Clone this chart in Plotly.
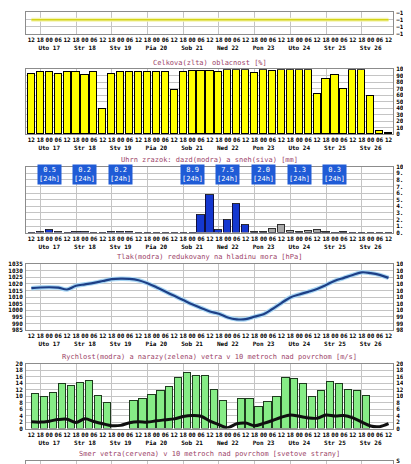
import plotly.graph_objects as go

# time axis: 6-hourly steps from Mon 16 12:00 to Thu 26 12:00
steps = list(range(41))
hour_cycle = ["12", "18", "00", "06"]
day_names = ["Uto 17", "Str 18", "Stv 19", "Pia 20", "Sob 21",
             "Ned 22", "Pon 23", "Uto 24", "Str 25", "Stv 26"]

cloud = [92, 96, 95, 93, 95, 96, 91, 96, 38, 92, 96, 95, 95, 95, 96, 95, 67,
         95, 97, 97, 97, 96, 98, 98, 98, 94, 98, 97, 98, 98, 98, 99, 62, 85,
         91, 69, 98, 98, 58, 4, 1]

rain = [0, 0.1, 0.4, 0.1, 0, 0.1, 0.1, 0, 0, 0.1, 0.1, 0.1, 0, 0, 0, 0, 0,
        0, 0, 2.7, 5.8, 0.4, 1.9, 4.4, 1.2, 0, 0, 0, 0, 0, 0, 0, 0, 0, 0,
        0, 0, 0, 0, 0, 0]
snow = [0] * 25 + [0.1, 0.2, 0.6, 1.2, 0.3, 0.1, 0.3, 0.4, 0.1, 0, 0.2,
                   0, 0, 0, 0, 0]
day_sum_steps = [2, 6, 10, 18, 22, 26, 30, 34]
day_sums = ["0.5", "0.2", "0.2", "8.9", "7.5", "2.0", "1.3", "0.3"]

pressure = [1016.8, 1017.3, 1017.5, 1017.2, 1015.8, 1018.6, 1019.7, 1020.8,
            1022.2, 1023.6, 1024.0, 1023.8, 1022.8, 1020.5, 1017.5, 1014.2,
            1011.0, 1007.8, 1004.6, 1001.8, 999.1, 997.4, 994.6, 993.2,
            993.3, 995.2, 997.0, 1001.0, 1005.5, 1009.8, 1012.0, 1014.0,
            1016.2, 1019.2, 1022.4, 1024.6, 1026.8, 1028.8, 1028.2, 1026.9,
            1024.6]

gust_steps = [i + 0.5 for i in range(40)]
gust = [10.7, 10.0, 11.1, 14.0, 13.2, 14.3, 14.7, 10.1, 8.0, None, None,
        8.7, 9.1, 10.6, 11.7, 13.0, 15.8, 17.2, 16.3, 16.4, 11.9, 8.7, None,
        9.3, 9.1, 6.9, 8.2, 10.0, 15.6, 15.4, 13.8, 9.7, 11.7, 14.4, 14.0,
        12.0, 11.8, 10.1, None, None]
speed = [2.1, 2.0, 2.3, 2.8, 2.9, 1.9, 3.0, 2.2, 1.5, 0.9, 1.0, 1.8, 2.1,
         2.0, 2.4, 2.7, 3.0, 3.7, 4.0, 3.8, 2.3, 1.2, 0.3, 1.5, 1.7, 0.9,
         1.6, 2.5, 3.5, 4.2, 3.8, 3.3, 3.2, 4.2, 3.9, 4.0, 3.3, 2.0, 0.8,
         0.6, 1.5]

top_line = [-14.0] * 41

titles = [
    "Celkova(zlta) oblacnost [%]",
    "Uhrn zrazok: dazd(modra) a sneh(siva) [mm]",
    "Tlak(modra) redukovany na hladinu mora [hPa]",
    "Rychlost(modra) a narazy(zelena) vetra v 10 metroch nad povrchom [m/s]",
    "Smer vetra(cervena) v 10 metroch nad povrchom [svetove strany]",
]

MONO = "DejaVu Sans Mono"
GRID = "#c4c4c4"
FRAME = "#8c8c8c"
TITLE_COLOR = "#9c3f68"
H = 464


def band(top_px, bottom_px):
    return [max(0.0, 1 - bottom_px / H), min(1.0, 1 - top_px / H)]


tick_text = []
for i in steps:
    label = hour_cycle[i % 4]
    if i % 4 == 2:
        label += "<br>" + day_names[(i - 2) // 4]
    tick_text.append(label)

fig = go.Figure()

# panel 1 (only the lower edge is visible)
fig.add_trace(go.Scatter(x=steps, y=top_line, mode="lines",
                         line=dict(color="#f4f4b0", width=4), xaxis="x", yaxis="y",
                         showlegend=False, hoverinfo="skip"))
fig.add_trace(go.Scatter(x=steps, y=top_line, mode="lines",
                         line=dict(color="#d4d418", width=1.5), xaxis="x", yaxis="y",
                         showlegend=False))

# panel 2: cloud cover
fig.add_trace(go.Bar(x=steps, y=cloud, width=0.8, xaxis="x2", yaxis="y2",
                     marker=dict(color="#ffff00", line=dict(color="black", width=1)),
                     showlegend=False))

# panel 3: precipitation
fig.add_trace(go.Bar(x=steps, y=rain, width=0.8, xaxis="x3", yaxis="y3",
                     marker=dict(color="#1538d0", line=dict(color="#101040", width=1)),
                     showlegend=False))
fig.add_trace(go.Bar(x=steps, y=snow, width=0.8, xaxis="x3", yaxis="y3",
                     marker=dict(color="#a8a8a8", line=dict(color="#303030", width=1)),
                     showlegend=False))

# panel 4: pressure
fig.add_trace(go.Scatter(x=steps, y=pressure, mode="lines", line_shape="spline",
                         line=dict(color="#a8d6f4", width=4.5), xaxis="x4", yaxis="y4",
                         showlegend=False, hoverinfo="skip"))
fig.add_trace(go.Scatter(x=steps, y=pressure, mode="lines", line_shape="spline",
                         line=dict(color="#1d3f86", width=2.2), xaxis="x4", yaxis="y7",
                         showlegend=False))

# panel 5: wind gusts and speed
fig.add_trace(go.Bar(x=gust_steps, y=gust, width=0.82, xaxis="x5", yaxis="y5",
                     marker=dict(color="#86ec86", line=dict(color="#1e3a1e", width=1)),
                     showlegend=False))
fig.add_trace(go.Scatter(x=steps, y=speed, mode="lines", line_shape="spline",
                         line=dict(color="#101010", width=3), xaxis="x5", yaxis="y8",
                         showlegend=False))

# panel 6: wind direction (only the top edge is visible)
fig.add_trace(go.Scatter(x=[None], y=[None], xaxis="x6", yaxis="y6", showlegend=False))

xbase = dict(domain=[0, 1], range=[-0.6, 40.5], tickmode="array", tickvals=steps,
             ticktext=tick_text, tickangle=0, showgrid=False, zeroline=False,
             minor=dict(tick0=1, dtick=4, showgrid=True, gridcolor=GRID, gridwidth=1),
             ticks="", showline=True, linecolor=FRAME, mirror=True,
             tickfont=dict(family=MONO, size=6, color="black", weight="bold"))
ybase = dict(side="right", showgrid=True, gridcolor=GRID, zeroline=False, ticks="",
             showline=True, linecolor=FRAME, mirror=True, ticklabelstandoff=1,
             tickfont=dict(family=MONO, size=6, color="black", weight="bold"))

panels = [(0, 22), (58, 124), (157, 224), (256, 323), (357, 423), (456, 464)]
layout = {}
for n, (top, bottom) in enumerate(panels, start=1):
    suffix = "" if n == 1 else str(n)
    layout["xaxis" + suffix] = dict(xbase, anchor="y" + suffix)
    layout["yaxis" + suffix] = dict(ybase, anchor="x" + suffix, domain=band(top, bottom))

layout["xaxis6"]["showticklabels"] = False
layout["yaxis"].update(range=[-16, -12.9], dtick=1)
layout["yaxis2"].update(range=[0, 100], dtick=10)
layout["yaxis3"].update(range=[0, 10], dtick=1, tickformat=".1f")
layout["yaxis4"].update(range=[985, 1035], dtick=5)
layout["yaxis5"].update(range=[0, 20], dtick=2)
layout["yaxis6"].update(range=[316, 360], tickvals=[360], ticktext=["S"])
layout["yaxis7"] = dict(ybase, side="left", overlaying="y4", range=[985, 1035], dtick=5,
                        showgrid=False, anchor="x4")
layout["yaxis8"] = dict(ybase, side="left", overlaying="y5", range=[0, 20], dtick=2,
                        showgrid=False, anchor="x5")

annotations = []
for text, px in zip(titles, [52, 150, 249, 350, 449]):
    annotations.append(dict(text=text, x=0.5, y=1 - px / H, xref="paper", yref="paper",
                            showarrow=False, xanchor="center", yanchor="middle",
                            font=dict(family=MONO, size=7, color=TITLE_COLOR)))
for step, total in zip(day_sum_steps, day_sums):
    annotations.append(dict(text=total + "<br>[24h]", x=step, y=8.75, xref="x3", yref="y3",
                            showarrow=False, bgcolor="#1f5bd6", borderpad=1,
                            font=dict(family=MONO, size=7, color="white")))

fig.update_layout(
    width=411, height=464, margin=dict(l=14, r=26, t=0, b=0),
    paper_bgcolor="white", plot_bgcolor="white", barmode="stack",
    bargap=0, annotations=annotations, **layout,
)

fig.write_html("out.html")
